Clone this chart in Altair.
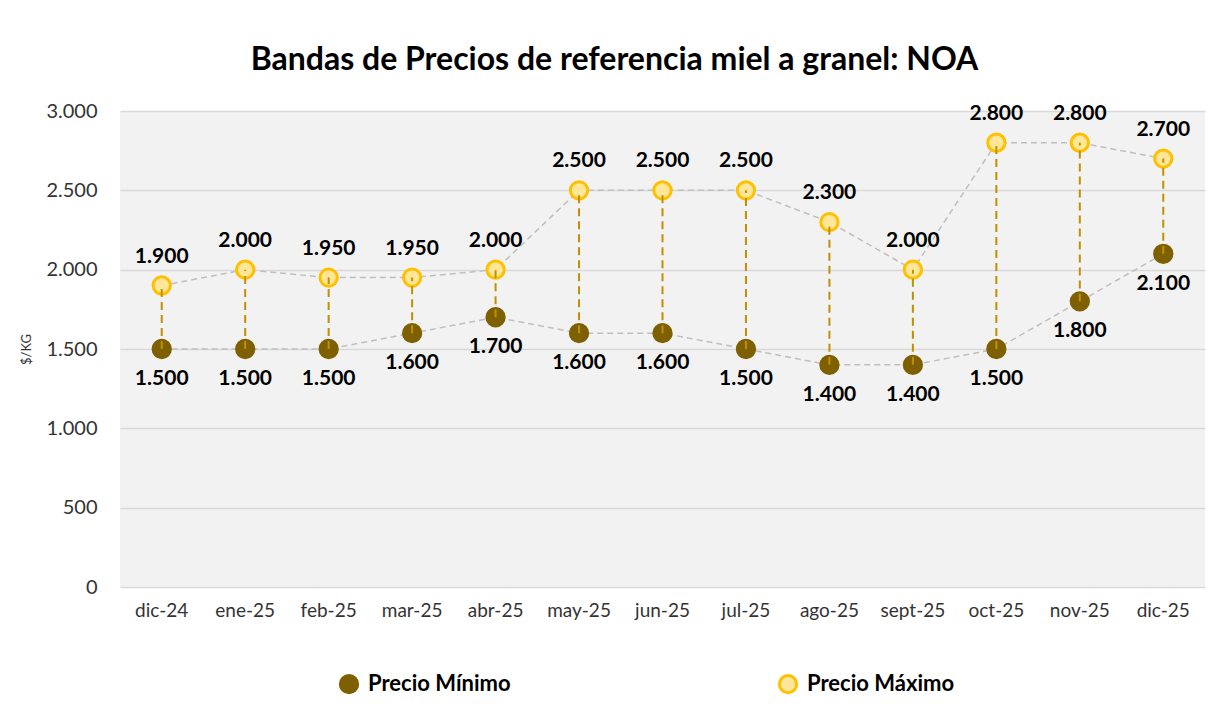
import altair as alt
import pandas as pd

categories = ["dic-24", "ene-25", "feb-25", "mar-25", "abr-25", "may-25", "jun-25",
              "jul-25", "ago-25", "sept-25", "oct-25", "nov-25", "dic-25"]
precio_min = [1500, 1500, 1500, 1600, 1700, 1600, 1600, 1500, 1400, 1400, 1500, 1800, 2100]
precio_max = [1900, 2000, 1950, 1950, 2000, 2500, 2500, 2500, 2300, 2000, 2800, 2800, 2700]
series_names = ["Precio Mínimo", "Precio Máximo"]
y_ticks = [0, 500, 1000, 1500, 2000, 2500, 3000]

FONT = "Lato"

wide = pd.DataFrame({"mes": categories, "min": precio_min, "max": precio_max})
long = pd.concat([
    pd.DataFrame({"mes": categories, "serie": series_names[0], "valor": precio_min}),
    pd.DataFrame({"mes": categories, "serie": series_names[1], "valor": precio_max}),
])

x = alt.X("mes:N", sort=categories, title=None,
          scale=alt.Scale(paddingInner=0, paddingOuter=0),
          axis=alt.Axis(labelAngle=0, labelFontSize=19, labelColor="#333333", labelFont=FONT,
                        ticks=False, domain=False, grid=False, labelPadding=14))
y = alt.Y("valor:Q", title="$/KG",
          scale=alt.Scale(domain=[0, 3000], nice=False),
          axis=alt.Axis(values=y_ticks, labelFontSize=20, labelColor="#333333", labelFont=FONT,
                        labelExpr="replace(format(datum.value, ','), ',', '.')",
                        ticks=False, domain=False, gridColor="#d9d9d9", gridWidth=1.5,
                        labelPadding=23, titleFontSize=13, titleFontWeight="normal",
                        titleFont=FONT, titleColor="#333333", titlePadding=12))

base = alt.Chart(long).encode(x=x, y=y)

lines = base.mark_line(color="#bfbfbf", strokeWidth=1.5, strokeDash=[6, 4]).encode(
    detail="serie:N")

points = base.mark_point(filled=False, size=300, opacity=1, strokeWidth=3).encode(
    fill=alt.Fill("serie:N", scale=alt.Scale(domain=series_names, range=["#7f6000", "#ffe699"]),
                  legend=alt.Legend(title=None, orient="none", direction="horizontal",
                                    legendX=218, legendY=562, columns=2, columnPadding=262,
                                    labelFontSize=22, labelFontWeight="bold", labelFont=FONT,
                                    labelColor="#000000", symbolType="circle", symbolSize=300,
                                    symbolStrokeWidth=3, labelLimit=300, labelOffset=8)),
    stroke=alt.Stroke("serie:N", scale=alt.Scale(domain=series_names, range=["#7f6000", "#ffc000"])),
)

rules = alt.Chart(wide).mark_rule(color="#bf9000", strokeWidth=2, strokeDash=[8, 5]).encode(
    x=alt.X("mes:N", sort=categories), y="min:Q", y2="max:Q")

lab = base.transform_calculate(
    txt="replace(format(datum.valor, ','), ',', '.')")
labels_max = lab.transform_filter(alt.datum.serie == series_names[1]).mark_text(
    dy=-29, fontSize=21, fontWeight="bold", font=FONT, color="#000000").encode(text="txt:N")
labels_min = lab.transform_filter(alt.datum.serie == series_names[0]).mark_text(
    dy=30, fontSize=21, fontWeight="bold", font=FONT, color="#000000").encode(text="txt:N")

chart = alt.layer(lines, points, rules, labels_max, labels_min).properties(
    width=1085, height=476,
    autosize=alt.AutoSizeParams(type="none"),
    padding={"left": 112, "top": 103, "right": 10, "bottom": 118},
    title=alt.Title("Bandas de Precios de referencia miel a granel: NOA",
                    fontSize=32, font=FONT, fontWeight="bold", color="#000000",
                    anchor="middle", dx=-48, offset=24),
    background="white",
).configure_view(fill="#f2f2f2", stroke=None)

chart.save("out.html", embed_options={"renderer": "svg", "actions": False})
